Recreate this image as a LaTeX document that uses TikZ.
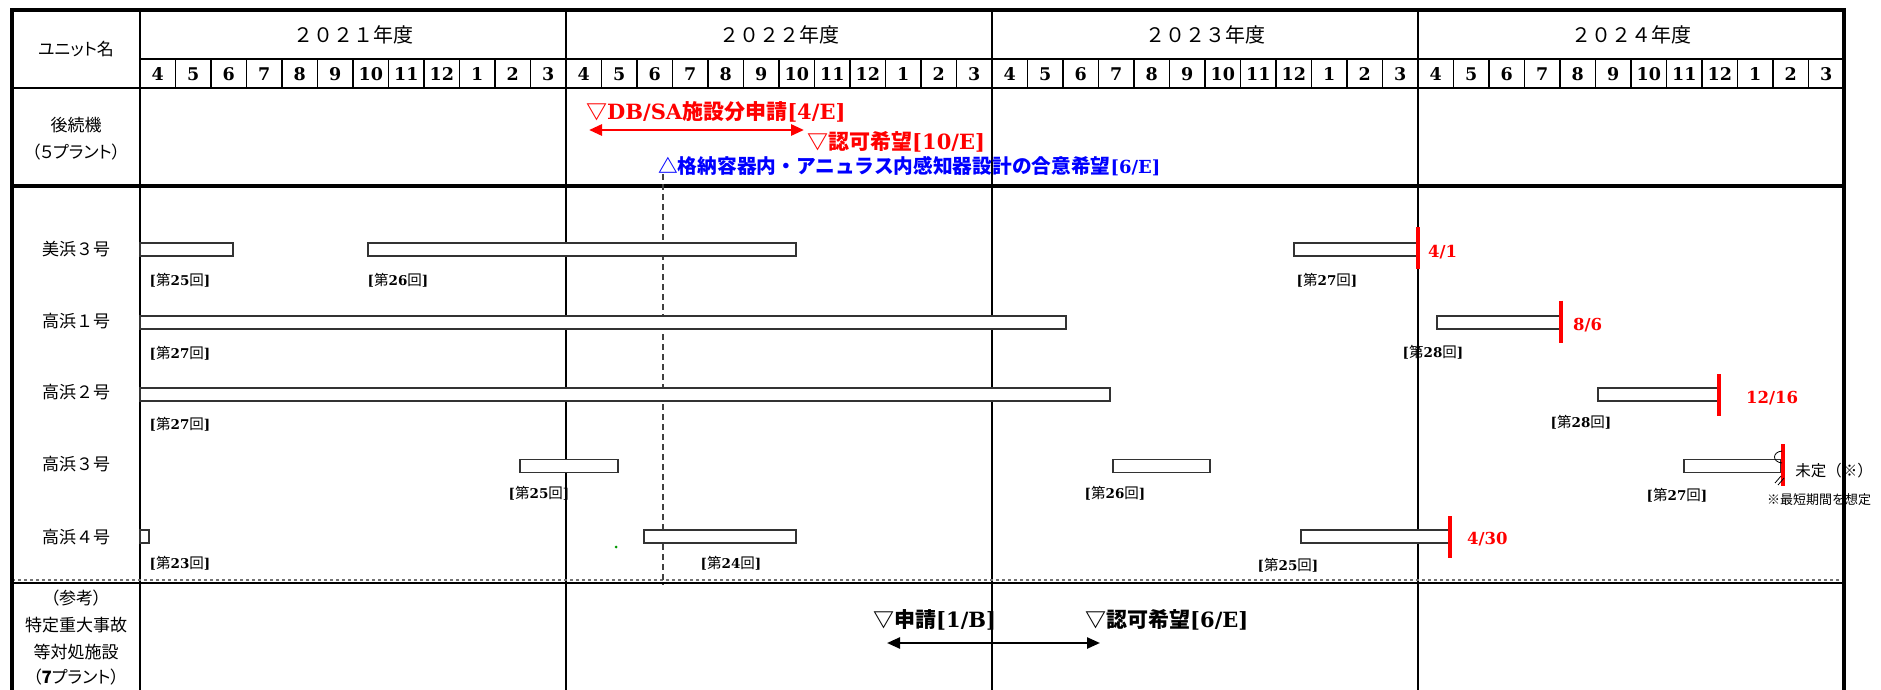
\documentclass[tikz,border=0pt]{standalone}
\usepackage{fontspec}
\newfontfamily\jp{Noto Sans CJK JP}
\newfontfamily\jpp[RawFeature=+palt]{Noto Sans CJK JP}
\newfontfamily\serfam{DejaVu Serif}
\usetikzlibrary{arrows.meta}
\newcommand\cb{\serfam\bfseries}
\newcommand\fs[1]{\fontsize{#1}{#1}\selectfont}
\newcommand\kai[1]{{\cb[}{\jp\fs{14.5}第}{\cb #1}{\jp\fs{14.5}回}{\cb]}}

\begin{document}
\begin{tikzpicture}[x=1pt,y=-1pt,
  thick line/.style={line width=4.5pt},
  grid line/.style={line width=2pt},
  bar/.style={draw=black!80,line width=1.8pt,fill=white},
  endmark/.style={red,line width=4.5pt},
  unit/.style={font=\jp\fs{17}},
  mon/.style={font=\cb\fs{17.5},inner sep=0pt},
  yr/.style={font=\jp\fs{20}},
  kaisu/.style={font=\fs{13.5},inner sep=0pt},
  date/.style={red,font=\cb\fs{16.5},inner sep=0pt,anchor=west},
  note/.style={font=\cb\fs{21},inner sep=0pt,anchor=west},
  dbl/.style={{Triangle[length=13pt,width=11pt]}-{Triangle[length=13pt,width=11pt]},line width=2.8pt}]
  \useasboundingbox (0,0) rectangle (1881,690);
  \fill[white] (0,0) rectangle (1881,690);

  % table
  \draw[grid line] (140,10) -- (140,690);
  \foreach \k in {1,2,3} \draw[grid line] ({140+426*\k},10) -- ({140+426*\k},690);
  \foreach \k in {1,...,47} \draw[line width=1.8pt] ({140+35.5*\k},59) -- ({140+35.5*\k},88);
  \draw[grid line] (140,59) -- (1844,59);
  \draw[grid line] (12,88) -- (1844,88);
  \draw[thick line] (12,186) -- (1844,186);
  \draw[grid line] (12,583) -- (1844,583);
  \draw[line width=1.5pt,dashed,black!55] (12,580) -- (1844,580);
  \draw[thick line] (12,690) -- (12,10) -- (1844,10) -- (1844,690);

  \foreach \y [count=\i from 0] in {２０２１,２０２２,２０２３,２０２４}
    \node[yr] (y\i) at ({353+426*\i},35) {\y 年度};
  \foreach \k in {0,...,47} {
    \pgfmathtruncatemacro\m{mod(\k+3,12)+1}
    \node[mon] (m\k) at ({140+35.5*(\k+.5)},74) {\m};
  }

  \node[unit,font=\jpp\fs{17}] (unitname) at (76,49) {ユニット名};
  \node[unit] (succ) at (76,125) {後続機};
  \node[unit,font=\jpp\fs{17}] (succn) at (76,152) {（５プラント）};
  \node[unit] (mh3) at (76,249) {美浜３号};
  \node[unit] (tk1) at (76,321) {高浜１号};
  \node[unit] (tk2) at (76,392) {高浜２号};
  \node[unit] (tk3) at (76,464) {高浜３号};
  \node[unit] (tk4) at (76,537) {高浜４号};
  \node[unit,font=\jpp\fs{17}] (ref) at (76,598) {（参考）};
  \node[unit] (tokutei) at (76,625) {特定重大事故};
  \node[unit] (taisho) at (76,652) {等対処施設};
  \node[unit,font=\jpp\fs{17}] (refn) at (76,677) {（{\bfseries 7}プラント）};

  % successor plants
  \node[note,red] (dbsa) at (586,112) {{\jp ▽}DB/SA{\jp\bfseries 施設分申請}[4/E]};
  \coordinate (dbL) at (589,130);
  \coordinate (dbR) at (804,130);
  \draw[dbl,red] (dbL) -- (dbR);
  \node[note,red] (ninka) at (807,142) {{\jp ▽}{\jp\bfseries 認可希望}[10/E]};
  \node[note,blue,font=\cb\fs{18}] (goui) at (658,166)
    {{\jp\fs{19.7}△}{\jp\fs{19.7}\bfseries 格納容器内・アニュラス内感知器設計の合意希望}[6/E]};
  \coordinate (gouiT) at (663,174);
  \coordinate (gouiB) at (663,585);
  \draw[line width=1.5pt,black!75,dash pattern=on 6pt off 4pt] (gouiT) -- (gouiB);

  % outages
  \foreach \a/\b/\c in {140/233/249.5,368/796/249.5,1294/1418/249.5,
      140/1066/322.5,1437/1560/322.5,140/1110/394.5,1598/1718/394.5,
      520/618/466,1113/1210/466,1684/1781/466,
      140/149/536.5,644/796/536.5,1301/1449/536.5}
    \draw[bar] (\a,\c-6.5) rectangle (\b,\c+6.5);
  \foreach \x/\c in {1418/248,1561/321.5,1719/395,1783/465,1450/537}
    \draw[endmark] (\x,\c-21) -- (\x,\c+21);
  \draw[line width=0.8pt] (1782,451) .. controls (1772,452) and (1772,462) .. (1782,463);
  \draw[line width=0.8pt] (1775,483) -- (1781,476) (1778,485) -- (1784,478);

  \node[kaisu] (k1) at (180,280) {\kai{25}};
  \node[kaisu] (k2) at (398,280) {\kai{26}};
  \node[kaisu] (k3) at (1327,280) {\kai{27}};
  \node[kaisu] (k4) at (180,353) {\kai{27}};
  \node[kaisu] (k5) at (1433,352) {\kai{28}};
  \node[kaisu] (k6) at (180,424) {\kai{27}};
  \node[kaisu] (k7) at (1581,422) {\kai{28}};
  \node[kaisu] (k8) at (539,493) {\kai{25}};
  \node[kaisu] (k9) at (1115,493) {\kai{26}};
  \node[kaisu] (k10) at (1677,495) {\kai{27}};
  \node[kaisu] (k11) at (180,563) {\kai{23}};
  \node[kaisu] (k12) at (731,563) {\kai{24}};
  \node[kaisu] (k13) at (1288,565) {\kai{25}};

  \node[date] (d1) at (1428,252) {4/1};
  \node[date] (d2) at (1573,325) {8/6};
  \node[date] (d3) at (1746,398) {12/16};
  \node[date] (d4) at (1467,539) {4/30};
  \node[unit,font=\jp\fs{15.5}] (mitei) at (1834,471) {未定（※）};
  \node[unit,font=\jp\fs{13}] (saitan) at (1819,500) {※最短期間を想定};
  \fill[green!60!black] (616,547) circle (1.5);

  % specific severe accident facilities
  \node[note] (sinsei) at (873,620) {{\jp ▽}{\jp\bfseries 申請}[1/B]};
  \node[note] (ninka2) at (1085,620) {{\jp ▽}{\jp\bfseries 認可希望}[6/E]};
  \coordinate (tkL) at (887,643);
  \coordinate (tkR) at (1100,643);
  \draw[dbl,line width=2.4pt] (tkL) -- (tkR);
\end{tikzpicture}
\end{document}
